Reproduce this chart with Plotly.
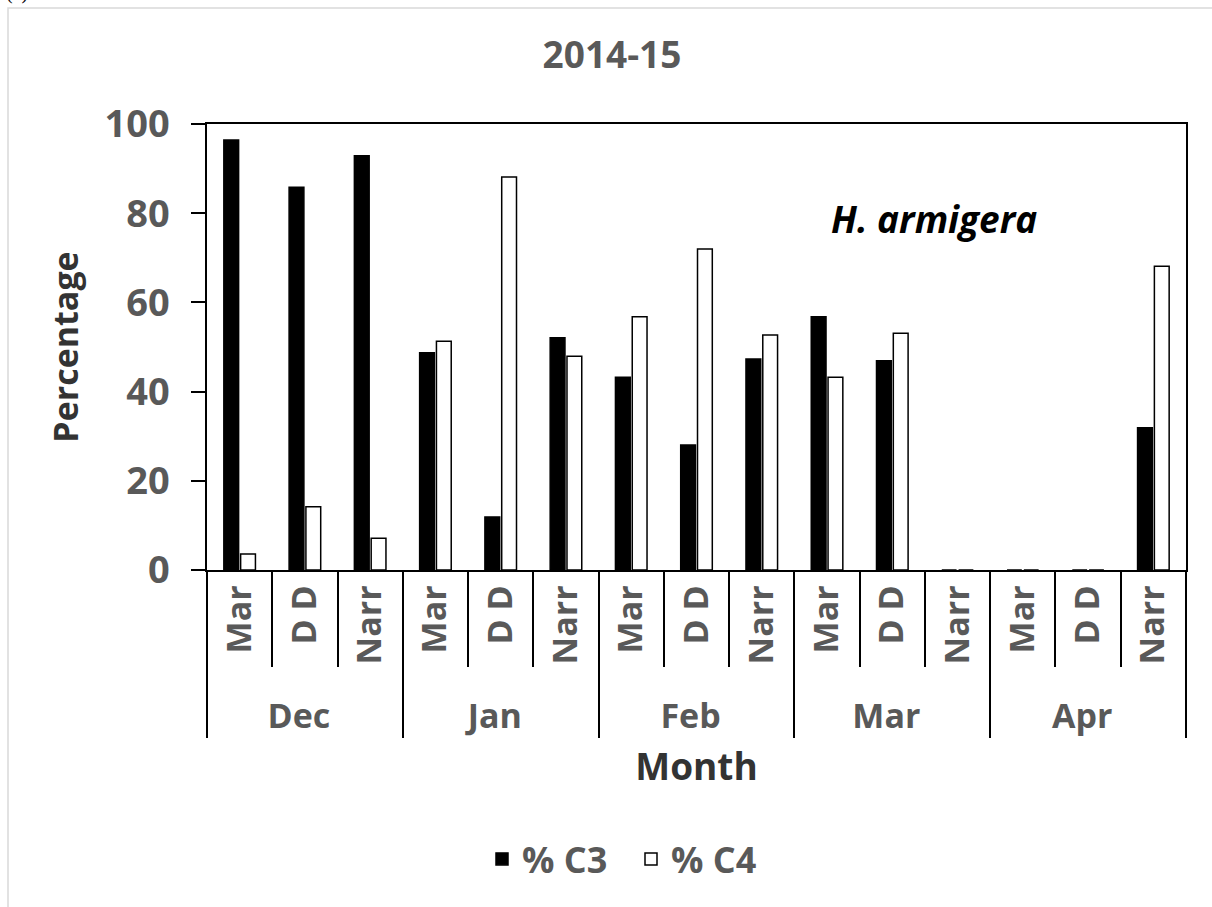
import plotly.graph_objects as go

months = ["Dec", "Jan", "Feb", "Mar", "Apr"]
sites = ["Mar", "D D", "Narr"]
c3 = [96.4, 85.8, 92.9, 48.7, 11.9, 52.1, 43.2, 28.0, 47.3, 56.8, 46.9, 0, 0, 0, 31.9]
c4 = [3.6, 14.2, 7.1, 51.3, 88.1, 47.9, 56.8, 72.0, 52.7, 43.2, 53.1, 0, 0, 0, 68.1]
y_ticks = [0, 20, 40, 60, 80, 100]

outer = [m for m in months for _ in sites]
inner = [s for _ in months for s in sites]

FONT = "Open Sans"
GREY = "#595959"
DARK = "#333333"

W, H = 1212, 907
L, R, T, B = 207, 26, 124, 337
PW, PH = W - L - R, H - T - B

fig = go.Figure()
fig.add_trace(go.Bar(x=[outer, inner], y=c3, name="% C3",
                     marker=dict(color="black", line=dict(color="black", width=1.5))))
fig.add_trace(go.Bar(x=[outer, inner], y=c4, name="% C4",
                     marker=dict(color="white", line=dict(color="black", width=1.5))))

fig.update_layout(
    width=W, height=H,
    margin=dict(l=L, r=R, t=T, b=B, autoexpand=False),
    paper_bgcolor="white", plot_bgcolor="white",
    bargap=0.485, bargroupgap=0.12,
    font=dict(family=FONT, color=GREY, size=34, weight="bold"),
    title=dict(text="2014-15", x=612 / W, xref="container", y=1 - 55 / H, yref="container",
               xanchor="center", yanchor="middle",
               font=dict(family=FONT, size=37, color=GREY, weight="bold")),
    legend=dict(orientation="h", x=(631 - L) / PW, xanchor="center",
                y=(PH - (859 - T)) / PH, yanchor="middle",
                font=dict(family=FONT, size=36, color=GREY, weight="bold"),
                entrywidth=104, tracegroupgap=0),
    showlegend=True,
)

fig.update_yaxes(range=[0, 100], tickvals=y_ticks, ticks="outside", ticklen=14,
                 tickwidth=1.5, tickcolor="black", showline=True, linecolor="black",
                 linewidth=1.5, mirror=True, showgrid=False, zeroline=False,
                 ticklabelstandoff=14,
                 tickfont=dict(family=FONT, size=38, color=GREY, weight="bold"),
                 title=dict(text="Percentage", standoff=16,
                            font=dict(family=FONT, size=34, color=DARK, weight="bold")))

fig.update_xaxes(type="multicategory", ticks="outside", tickson="boundaries", ticklen=95,
                 tickwidth=1.5, tickcolor="black", showline=True, linecolor="black",
                 linewidth=1.5, mirror=True, showgrid=False, tickangle=-90,
                 showdividers=True, dividercolor="black", dividerwidth=1.5,
                 tickfont=dict(family=FONT, size=34, color=GREY, weight="bold"),
                 title=dict(text="Month", standoff=17,
                            font=dict(family=FONT, size=37, color=DARK, weight="bold")))

fig.add_annotation(text="<i>H. armigera</i>", xref="paper", yref="paper",
                   x=(934 - L) / PW, y=(PH - (218 - T)) / PH, showarrow=False,
                   xanchor="center", yanchor="middle",
                   font=dict(family=FONT, size=37, color="black", weight="bold"))
fig.add_annotation(text="(a)", xref="paper", yref="paper", x=(4 - L) / PW,
                   y=(PH + T - 6) / PH, showarrow=False, xanchor="left", yanchor="bottom",
                   font=dict(family="Liberation Serif", size=20, color="black", weight="normal"))
fig.add_shape(type="rect", xref="paper", yref="paper",
              x0=(8 - L) / PW, y0=(PH - (H + 20 - T)) / PH,
              x1=(W + 20 - L) / PW, y1=(PH - (8 - T)) / PH,
              line=dict(color="#d9d9d9", width=1.5), fillcolor="rgba(0,0,0,0)", layer="below")

fig.write_html("out.html", config={"displayModeBar": False},
               post_script="document.body.style.margin='0';")
